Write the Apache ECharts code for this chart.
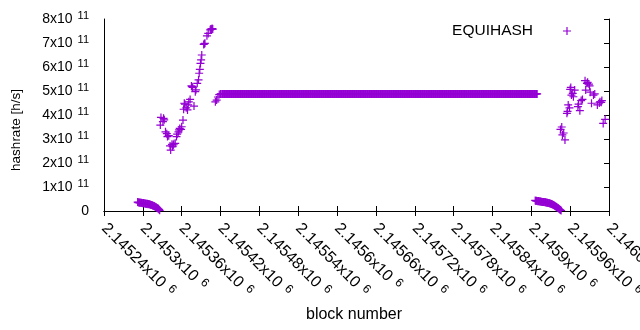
<!DOCTYPE html>
<html>
<head>
<meta charset="utf-8">
<script src="https://cdn.jsdelivr.net/npm/echarts@6/dist/echarts.min.js"></script>
<style>
  html, body { margin: 0; padding: 0; background: #fff; }
  #main { width: 640px; height: 330px; }
</style>
</head>
<body>
<div id="main"></div>
<script>
// axis ranges (block numbers / hashrate in units of 1e11 h/s)
var xMin = 2145240, xMax = 2146020, xStep = 60;
var yMin = 0, yMax = 8, yStep = 1;

// first low run, one point per block from lowRunAStart
var lowRunAStart = 2145292;
var lowRunA = [0.37, 0.35, 0.36, 0.34, 0.35, 0.33, 0.34, 0.33, 0.32, 0.33,
               0.31, 0.32, 0.30, 0.31, 0.29, 0.30, 0.28, 0.29, 0.28, 0.27,
               0.26, 0.25, 0.25, 0.23, 0.22, 0.21, 0.20, 0.18, 0.17, 0.15,
               0.13, 0.11, 0.09, 0.06, 0.03];

// scattered rise after the first low run
var riseBlocks = [2145327, 2145328, 2145331, 2145332, 2145333, 2145335, 2145337, 2145338, 2145340, 2145342,
                  2145343, 2145345, 2145346, 2145347, 2145348, 2145350, 2145352, 2145353, 2145355, 2145356,
                  2145357, 2145359, 2145360, 2145362, 2145363, 2145364, 2145365, 2145367, 2145369, 2145370,
                  2145371, 2145373, 2145375, 2145376, 2145377, 2145379, 2145381, 2145382, 2145384, 2145386,
                  2145387, 2145388, 2145389, 2145390, 2145391, 2145394, 2145395, 2145396, 2145399, 2145401,
                  2145404, 2145405, 2145406, 2145407, 2145408, 2145412, 2145414, 2145416, 2145418, 2145420];
var riseValues = [3.58, 3.90, 3.72, 3.86, 3.80, 3.30, 3.22, 3.10, 3.14, 2.71,
                  2.54, 2.78, 2.68, 2.75, 2.80, 2.82, 3.10, 3.20, 3.30, 3.38,
                  3.44, 3.40, 3.51, 3.79, 4.24, 4.49, 4.45, 4.30, 4.21, 4.42,
                  4.55, 4.65, 5.21, 5.18, 5.15, 4.37, 4.97, 5.05, 5.32, 5.46,
                  5.74, 5.90, 6.15, 6.30, 6.50, 6.94, 6.97, 6.99, 7.30, 7.40,
                  7.55, 7.58, 7.57, 7.60, 7.58, 4.55, 4.62, 4.75, 4.85, 4.88];

// flat run, one point per block from flatStart
var flatStart = 2145422;
var flatValues = [
  4.88, 4.88, 4.88, 4.88, 4.88, 4.88, 4.88, 4.88, 4.88, 4.88, 4.88, 4.88, 4.88, 4.88, 4.88, 4.88, 4.88, 4.88, 4.88, 4.88,
  4.88, 4.88, 4.88, 4.88, 4.88, 4.88, 4.88, 4.88, 4.88, 4.88, 4.88, 4.88, 4.88, 4.88, 4.88, 4.88, 4.88, 4.88, 4.88, 4.88,
  4.88, 4.88, 4.88, 4.88, 4.88, 4.88, 4.88, 4.88, 4.88, 4.88, 4.88, 4.88, 4.88, 4.88, 4.88, 4.88, 4.88, 4.88, 4.88, 4.88,
  4.88, 4.88, 4.88, 4.88, 4.88, 4.88, 4.88, 4.88, 4.88, 4.88, 4.88, 4.88, 4.88, 4.88, 4.88, 4.88, 4.88, 4.88, 4.88, 4.88,
  4.88, 4.88, 4.88, 4.88, 4.88, 4.88, 4.88, 4.88, 4.88, 4.88, 4.88, 4.88, 4.88, 4.88, 4.88, 4.88, 4.88, 4.88, 4.88, 4.88,
  4.88, 4.88, 4.88, 4.88, 4.88, 4.88, 4.88, 4.88, 4.88, 4.88, 4.88, 4.88, 4.88, 4.88, 4.88, 4.88, 4.88, 4.88, 4.88, 4.88,
  4.88, 4.88, 4.88, 4.88, 4.88, 4.88, 4.88, 4.88, 4.88, 4.88, 4.88, 4.88, 4.88, 4.88, 4.88, 4.88, 4.88, 4.88, 4.88, 4.88,
  4.88, 4.88, 4.88, 4.88, 4.88, 4.88, 4.88, 4.88, 4.88, 4.88, 4.88, 4.88, 4.88, 4.88, 4.88, 4.88, 4.88, 4.88, 4.88, 4.88,
  4.88, 4.88, 4.88, 4.88, 4.88, 4.88, 4.88, 4.88, 4.88, 4.88, 4.88, 4.88, 4.88, 4.88, 4.88, 4.88, 4.88, 4.88, 4.88, 4.88,
  4.88, 4.88, 4.88, 4.88, 4.88, 4.88, 4.88, 4.88, 4.88, 4.88, 4.88, 4.88, 4.88, 4.88, 4.88, 4.88, 4.88, 4.88, 4.88, 4.88,
  4.88, 4.88, 4.88, 4.88, 4.88, 4.88, 4.88, 4.88, 4.88, 4.88, 4.88, 4.88, 4.88, 4.88, 4.88, 4.88, 4.88, 4.88, 4.88, 4.88,
  4.88, 4.88, 4.88, 4.88, 4.88, 4.88, 4.88, 4.88, 4.88, 4.88, 4.88, 4.88, 4.88, 4.88, 4.88, 4.88, 4.88, 4.88, 4.88, 4.88,
  4.88, 4.88, 4.88, 4.88, 4.88, 4.88, 4.88, 4.88, 4.88, 4.88, 4.88, 4.88, 4.88, 4.88, 4.88, 4.88, 4.88, 4.88, 4.88, 4.88,
  4.88, 4.88, 4.88, 4.88, 4.88, 4.88, 4.88, 4.88, 4.88, 4.88, 4.88, 4.88, 4.88, 4.88, 4.88, 4.88, 4.88, 4.88, 4.88, 4.88,
  4.88, 4.88, 4.88, 4.88, 4.88, 4.88, 4.88, 4.88, 4.88, 4.88, 4.88, 4.88, 4.88, 4.88, 4.88, 4.88, 4.88, 4.88, 4.88, 4.88,
  4.88, 4.88, 4.88, 4.88, 4.88, 4.88, 4.88, 4.88, 4.88, 4.88, 4.88, 4.88, 4.88, 4.88, 4.88, 4.88, 4.88, 4.88, 4.88, 4.88,
  4.88, 4.88, 4.88, 4.88, 4.88, 4.88, 4.88, 4.88, 4.88, 4.88, 4.88, 4.88, 4.88, 4.88, 4.88, 4.88, 4.88, 4.88, 4.88, 4.88,
  4.88, 4.88, 4.88, 4.88, 4.88, 4.88, 4.88, 4.88, 4.88, 4.88, 4.88, 4.88, 4.88, 4.88, 4.88, 4.88, 4.88, 4.88, 4.88, 4.88,
  4.88, 4.88, 4.88, 4.88, 4.88, 4.88, 4.88, 4.88, 4.88, 4.88, 4.88, 4.88, 4.88, 4.88, 4.88, 4.88, 4.88, 4.88, 4.88, 4.88,
  4.88, 4.88, 4.88, 4.88, 4.88, 4.88, 4.88, 4.88, 4.88, 4.88, 4.88, 4.88, 4.88, 4.88, 4.88, 4.88, 4.88, 4.88, 4.88, 4.88,
  4.88, 4.88, 4.88, 4.88, 4.88, 4.88, 4.88, 4.88, 4.88, 4.88, 4.88, 4.88, 4.88, 4.88, 4.88, 4.88, 4.88, 4.88, 4.88, 4.88,
  4.88, 4.88, 4.88, 4.88, 4.88, 4.88, 4.88, 4.88, 4.88, 4.88, 4.88, 4.88, 4.88, 4.88, 4.88, 4.88, 4.88, 4.88, 4.88, 4.88,
  4.88, 4.88, 4.88, 4.88, 4.88, 4.88, 4.88, 4.88, 4.88, 4.88, 4.88, 4.88, 4.88, 4.88, 4.88, 4.88, 4.88, 4.88, 4.88, 4.88,
  4.88, 4.88, 4.88, 4.88, 4.88, 4.88, 4.88, 4.88, 4.88, 4.88, 4.88, 4.88, 4.88, 4.88, 4.88, 4.88, 4.88, 4.88, 4.88, 4.88,
  4.88, 4.88, 4.88, 4.88, 4.88, 4.88, 4.88, 4.88];

// second low run, one point per block from lowRunBStart
var lowRunBStart = 2145906;
var lowRunB = [0.44, 0.42, 0.43, 0.42, 0.41, 0.42, 0.40, 0.41, 0.40, 0.39,
               0.39, 0.38, 0.38, 0.37, 0.37, 0.36, 0.36, 0.35, 0.34, 0.34,
               0.33, 0.33, 0.32, 0.31, 0.30, 0.29, 0.28, 0.27, 0.25, 0.24,
               0.22, 0.20, 0.19, 0.17, 0.15, 0.13, 0.11, 0.08, 0.06, 0.04, 0.02];

// scattered points at the end
var tailBlocks = [2145945, 2145947, 2145948, 2145950, 2145952, 2145955, 2145956, 2145957, 2145959, 2145960,
                  2145961, 2145962, 2145964, 2145965, 2145967, 2145972, 2145973, 2145975, 2145977, 2145979,
                  2145983, 2145984, 2145986, 2145987, 2145989, 2145990, 2145991, 2145993, 2145996, 2145998,
                  2146002, 2146005, 2146006, 2146008, 2146009, 2146011, 2146014];
var tailValues = [3.40, 3.50, 3.17, 3.25, 2.96, 4.07, 4.15, 4.42, 4.30, 5.07,
                  5.15, 4.83, 4.90, 4.76, 5.04, 4.35, 4.45, 4.18, 4.60, 4.65,
                  5.43, 5.04, 5.32, 5.36, 5.29, 5.21, 4.95, 4.49, 4.83, 4.88,
                  4.42, 4.50, 4.55, 4.53, 4.60, 3.65, 3.82];

var points = [];
lowRunA.forEach(function (v, i) { points.push([lowRunAStart + i, v]); });
riseBlocks.forEach(function (b, i) { points.push([b, riseValues[i]]); });
flatValues.forEach(function (v, i) { points.push([flatStart + i, v]); });
lowRunB.forEach(function (v, i) { points.push([lowRunBStart + i, v]); });
tailBlocks.forEach(function (b, i) { points.push([b, tailValues[i]]); });

var font = 'Liberation Sans';
var plus = 'path://M0,3.4H8V4.6H0Z M3.4,0H4.6V8H3.4Z';

var chart = echarts.init(document.getElementById('main'), null, { renderer: 'canvas' });

chart.setOption({
  animation: false,
  backgroundColor: '#fff',
  grid: { left: 104, right: 31, top: 19, bottom: 119, containLabel: false, outerBoundsMode: 'none' },
  legend: {
    data: ['EQUIHASH'],
    right: 69,
    top: 23,
    align: 'right',
    padding: 0,
    itemWidth: 58,
    itemHeight: 8,
    textStyle: { fontFamily: font, fontSize: 15.5, color: '#000' }
  },
  xAxis: [{
    type: 'value',
    min: xMin, max: xMax, interval: xStep,
    axisLine: { show: true, lineStyle: { color: '#000', width: 1 } },
    axisTick: { show: true, inside: true, length: 5, lineStyle: { color: '#000' } },
    splitLine: { show: false },
    axisLabel: {
      rotate: -45,
      margin: 15,
      showMinLabel: true,
      showMaxLabel: true,
      formatter: function (v) {
        return '{b|' + parseFloat((v / 1e6).toFixed(5)) + 'x10}{s|6}';
      },
      rich: {
        b: { fontFamily: font, fontSize: 16, color: '#000' },
        s: { fontFamily: font, fontSize: 12, color: '#000', padding: [0, 0, 7, 6] }
      }
    }
  }, {
    type: 'value',
    position: 'top',
    min: xMin, max: xMax, interval: xStep,
    axisLine: { show: true, lineStyle: { color: '#000', width: 1 } },
    axisTick: { show: true, inside: true, length: 5, lineStyle: { color: '#000' } },
    axisLabel: { show: false },
    splitLine: { show: false }
  }],
  yAxis: [{
    type: 'value',
    min: yMin, max: yMax, interval: yStep,
    axisLine: { show: true, lineStyle: { color: '#000', width: 1 } },
    axisTick: { show: false },
    splitLine: { show: false },
    axisLabel: {
      margin: 15,
      formatter: function (v) {
        return v === 0 ? '{b|0}' : '{b|' + v + 'x10}{s|11}';
      },
      rich: {
        b: { fontFamily: font, fontSize: 14, color: '#000' },
        s: { fontFamily: font, fontSize: 11, color: '#000', padding: [0, 0, 6, 5] }
      }
    }
  }, {
    type: 'value',
    position: 'right',
    min: yMin, max: yMax, interval: yStep,
    axisLine: { show: true, lineStyle: { color: '#000', width: 1 } },
    axisTick: { show: true, inside: true, length: 5, lineStyle: { color: '#000' } },
    axisLabel: { show: false },
    splitLine: { show: false }
  }],
  graphic: [{
    type: 'text',
    x: 16, y: 130,
    rotation: Math.PI / 2,
    style: { text: 'hashrate [h/s]', align: 'center', verticalAlign: 'middle', fontFamily: font, fontSize: 13.5, fill: '#000' }
  }, {
    type: 'text',
    x: 354, y: 315,
    style: { text: 'block number', align: 'center', verticalAlign: 'middle', fontFamily: font, fontSize: 16, fill: '#000' }
  }],
  series: [{
    name: 'EQUIHASH',
    type: 'scatter',
    symbol: plus,
    symbolSize: 8,
    itemStyle: { color: '#9400d3', opacity: 1 },
    emphasis: { disabled: true },
    data: points
  }]
});
</script>
</body>
</html>
